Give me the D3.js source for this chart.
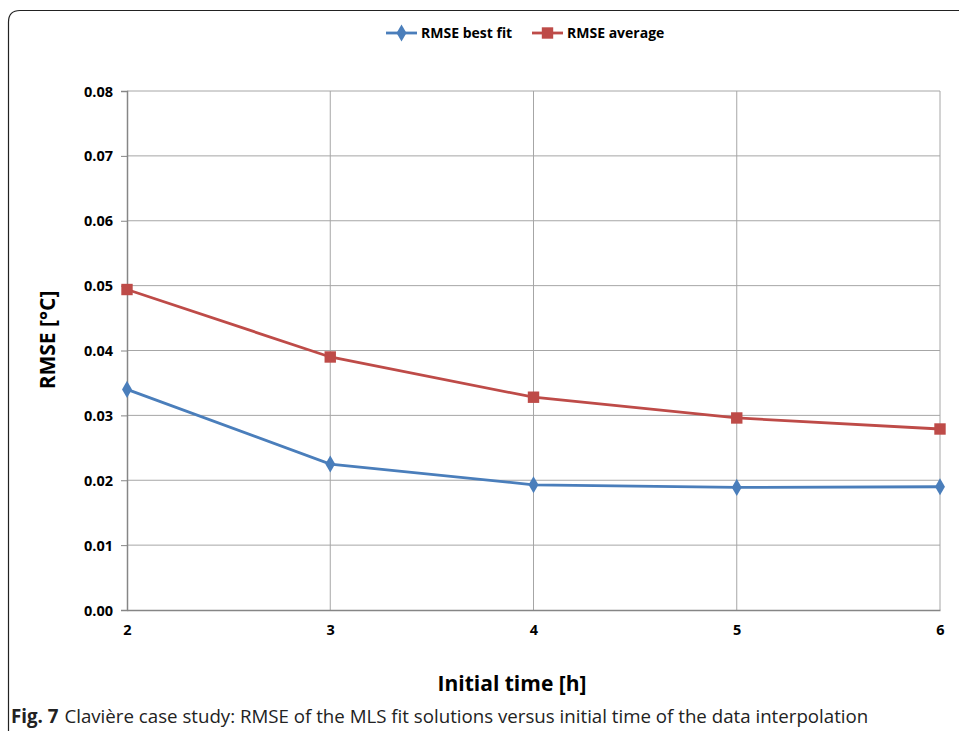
<!DOCTYPE html>
<html>
<head>
<meta charset="utf-8">
<script src="https://cdn.jsdelivr.net/npm/d3@7"></script>
<style>
  html, body { margin: 0; padding: 0; background: #fff; }
  svg { display: block; }
  .tick-label { font-family: "Open Sans", sans-serif; font-weight: bold; font-size: 14.5px; fill: #000; }
</style>
</head>
<body>
<svg id="chart" width="959" height="731"></svg>
<script>
// Initial time of the data interpolation [h]
const initialTimes = [2, 3, 4, 5, 6];
// RMSE [°C] of the MLS fit solutions
const rmseBestFit = [0.0340, 0.0225, 0.0193, 0.0189, 0.0190];
const rmseAverage = [0.0494, 0.0390, 0.0328, 0.0296, 0.0279];
const yTicks = [0, 0.01, 0.02, 0.03, 0.04, 0.05, 0.06, 0.07, 0.08];
const seriesNames = ["RMSE best fit", "RMSE average"];
const seriesColors = ["#4a7ebb", "#be4b48"];

const svg = d3.select("#chart");
const plotLeft = 127, plotRight = 940, plotTop = 91, plotBottom = 610;

const x = d3.scaleLinear().domain([2, 6]).range([plotLeft, plotRight]);
const y = d3.scaleLinear().domain([0, 0.08]).range([plotBottom, plotTop]);

// Outer frame with rounded top-left corner
svg.append("path")
  .attr("d", `M8.5,731 L8.5,22 Q8.5,10.5 20,10.5 L959,10.5`)
  .attr("fill", "none").attr("stroke", "#222").attr("stroke-width", 1.2);

// Horizontal gridlines
svg.append("g").selectAll("line").data(yTicks.slice(1)).join("line")
  .attr("x1", plotLeft).attr("x2", plotRight)
  .attr("y1", d => y(d)).attr("y2", d => y(d))
  .attr("stroke", "#a6a6a6").attr("stroke-width", 1);
// Vertical gridlines
svg.append("g").selectAll("line").data(initialTimes.slice(1)).join("line")
  .attr("x1", d => x(d)).attr("x2", d => x(d))
  .attr("y1", plotTop).attr("y2", plotBottom)
  .attr("stroke", "#a6a6a6").attr("stroke-width", 1);

// Y axis
const yAxis = svg.append("g").attr("transform", `translate(${plotLeft},0)`)
  .call(d3.axisLeft(y).tickValues(yTicks).tickFormat(d3.format(".2f")).tickSize(6).tickPadding(8));
yAxis.select(".domain").attr("stroke", "#868686").attr("stroke-width", 1.5);
yAxis.selectAll(".tick line").attr("stroke", "#868686");
yAxis.selectAll(".tick text").attr("class", "tick-label").attr("dy", "0.35em");

// X axis
const xAxis = svg.append("g").attr("transform", `translate(0,${plotBottom})`)
  .call(d3.axisBottom(x).tickValues(initialTimes).tickFormat(d3.format("d")).tickSize(0).tickPadding(15));
xAxis.select(".domain").attr("stroke", "#868686").attr("stroke-width", 1.5);
xAxis.selectAll(".tick text").attr("class", "tick-label").attr("dy", "0.71em");

// Series lines and markers
const line = d3.line().x((d, i) => x(initialTimes[i])).y(d => y(d));
const diamond = d3.symbol().type(d3.symbolDiamond).size(85);
const square = d3.symbol().type(d3.symbolSquare).size(130);

[rmseBestFit, rmseAverage].forEach((vals, s) => {
  svg.append("path").datum(vals)
    .attr("d", line).attr("fill", "none")
    .attr("stroke", seriesColors[s]).attr("stroke-width", 2.8);
  svg.append("g").selectAll("path").data(vals).join("path")
    .attr("transform", (d, i) => `translate(${x(initialTimes[i])},${y(d)})`)
    .attr("d", s === 0 ? diamond : square)
    .attr("fill", seriesColors[s]);
});

// Legend
const legendItems = [{x0: 386, tx: 421}, {x0: 532, tx: 567}];
legendItems.forEach((it, s) => {
  const g = svg.append("g");
  g.append("line").attr("x1", it.x0).attr("x2", it.x0 + 31).attr("y1", 33).attr("y2", 33)
    .attr("stroke", seriesColors[s]).attr("stroke-width", 2.8);
  g.append("path").attr("transform", `translate(${it.x0 + 15.5},33)`)
    .attr("d", s === 0 ? diamond : square).attr("fill", seriesColors[s]);
  g.append("text").attr("x", it.tx).attr("y", 33).attr("dy", "0.35em")
    .attr("class", "tick-label").style("font-size", "14px").text(seriesNames[s]);
});

// Axis titles
svg.append("text")
  .attr("transform", `translate(55,340) rotate(-90)`)
  .attr("text-anchor", "middle")
  .style("font-family", '"Open Sans", sans-serif')
  .style("font-weight", "bold").style("font-size", "21px")
  .text("RMSE [°C]");
svg.append("text")
  .attr("x", 512).attr("y", 691).attr("text-anchor", "middle")
  .style("font-family", '"Open Sans", sans-serif')
  .style("font-weight", "bold").style("font-size", "21px")
  .text("Initial time [h]");

// Figure caption
const cap = svg.append("text").attr("x", 11).attr("y", 723)
  .style("font-family", '"Open Sans", sans-serif')
  .style("font-size", "18.7px").attr("fill", "#222");
cap.append("tspan").style("font-weight", "bold").text("Fig. 7");
cap.append("tspan").attr("dx", 6).text("Clavière case study: RMSE of the MLS fit solutions versus initial time of the data interpolation");
</script>
</body>
</html>
